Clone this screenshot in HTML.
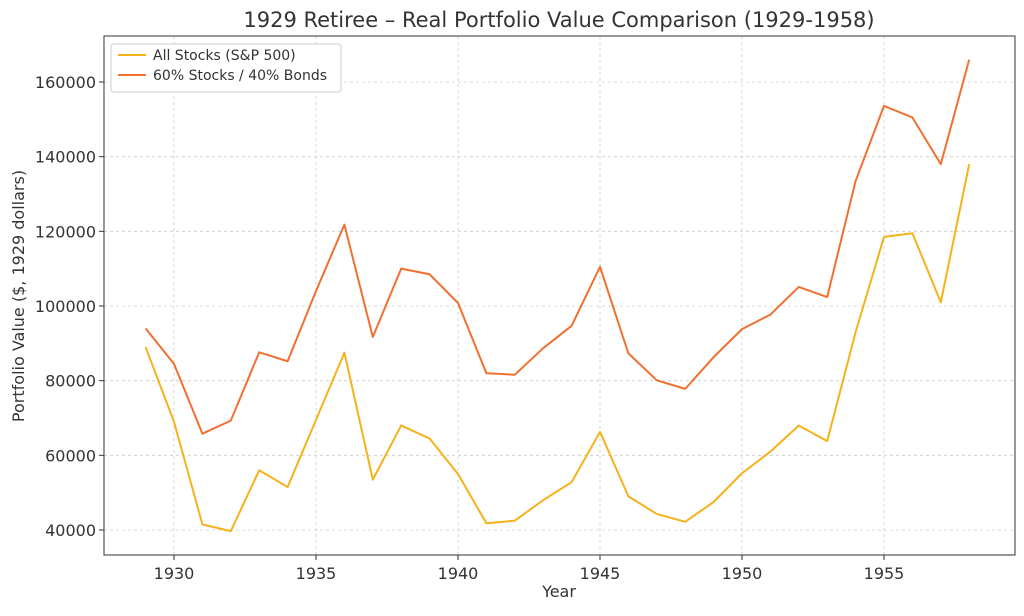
<!DOCTYPE html>
<html><head><meta charset="utf-8"><style>
body{margin:0;background:#fff;font-family:"Liberation Sans","DejaVu Sans",sans-serif}
svg text{font-family:"DejaVu Sans","Liberation Sans",sans-serif;fill:#333}
</style></head><body>
<svg id="chart" width="1024" height="611"></svg>
<script>
const years=[1929,1930,1931,1932,1933,1934,1935,1936,1937,1938,1939,1940,1941,1942,1943,1944,1945,1946,1947,1948,1949,1950,1951,1952,1953,1954,1955,1956,1957,1958];
const allStocks=[89000,69000,41500,39700,56000,51500,69500,87500,53500,68000,64500,55000,41800,42500,48000,52800,66300,49000,44300,42200,47500,55200,61000,68000,63800,93000,118500,119500,101000,138000];
const mixed=[94000,84500,65800,69300,87600,85200,104000,121800,91700,110000,108500,100800,82000,81600,88700,94700,110500,87300,80100,77800,86300,93800,97700,105100,102400,133500,153600,150500,138000,166000];
const xTicks=[1930,1935,1940,1945,1950,1955];
const yTicks=[40000,60000,80000,100000,120000,140000,160000];
const NS="http://www.w3.org/2000/svg";
const svg=document.getElementById('chart');
const L=104,R=1015,T=36,B=555;
const x=v=>174+(v-1930)*28.4;
const y=v=>530-(v-40000)*448/120000;
function mk(tag,attrs,parent){const e=document.createElementNS(NS,tag);for(const k in attrs)e.setAttribute(k,attrs[k]);(parent||svg).appendChild(e);return e;}
xTicks.forEach(t=>{
 const g=mk('line',{x1:x(t),x2:x(t),y1:T,y2:B,stroke:'#ccc','stroke-dasharray':'3,3','stroke-width':0.8});
 
 
 const tk=mk('line',{x1:x(t),x2:x(t),y1:B,y2:B+5,stroke:'#333'});
 
 
 const tx=mk('text',{x:x(t),y:B+24,'text-anchor':'middle','font-size':16});tx.textContent=t;
 
 
});
yTicks.forEach(t=>{
 const g=mk('line',{x1:L,x2:R,y1:y(t),y2:y(t),stroke:'#ccc','stroke-dasharray':'3,3','stroke-width':0.8});
 
 
 const tk=mk('line',{x1:L-5,x2:L,y1:y(t),y2:y(t),stroke:'#333'});
 
 
 const tx=mk('text',{x:L-8,y:y(t)+6,'text-anchor':'end','font-size':16});tx.textContent=t;
 
 
});
const ax=mk('rect',{x:L,y:T,width:R-L,height:B-T,fill:'none',stroke:'#333','stroke-width':1});


function series(vals,color,name){
 const p=mk('polyline',{points:years.map((yr,i)=>x(yr)+','+y(vals[i])).join(' '),fill:'none',stroke:color,'stroke-width':2,'stroke-linejoin':'round'});
 
 
}
series(allStocks,'#f6b21b','all-stocks-line');
series(mixed,'#f07030','stocks-bonds-line');
const title=mk('text',{x:559,y:27,'text-anchor':'middle','font-size':21});title.textContent='1929 Retiree – Real Portfolio Value Comparison (1929-1958)';


const xl=mk('text',{x:559,y:597,'text-anchor':'middle','font-size':16});xl.textContent='Year';


const yl=mk('text',{x:24,y:296,'text-anchor':'middle','font-size':16,transform:'rotate(-90 24 296)'});yl.textContent='Portfolio Value ($, 1929 dollars)';


const lg=mk('g',{});


mk('rect',{x:111,y:44,width:230,height:48,rx:3,fill:'#fff',stroke:'#ccc'},lg);
[['All Stocks (S&P 500)','#f6b21b',60],['60% Stocks / 40% Bonds','#f07030',80]].forEach(([t,c,yy])=>{
 const e=mk('g',{},lg);
 
 
 mk('line',{x1:118,x2:146,y1:yy-5,y2:yy-5,stroke:c,'stroke-width':2},e);
 const tx=mk('text',{x:153,y:yy,'font-size':14},e);tx.textContent=t;
});
</script>
</body></html>
